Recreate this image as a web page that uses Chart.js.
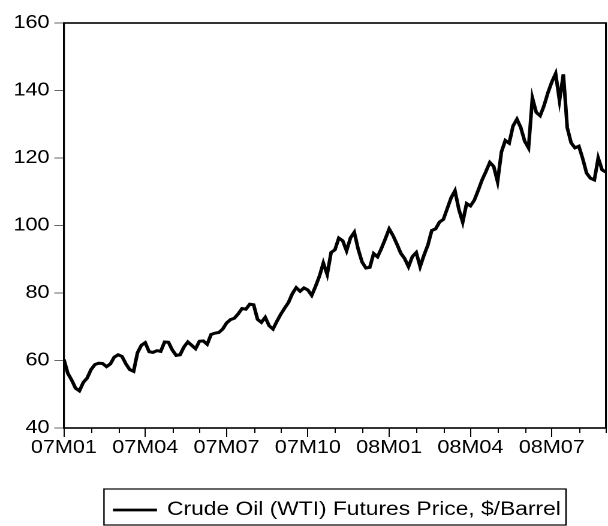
<!DOCTYPE html>
<html>
<head>
<meta charset="utf-8">
<script src="https://cdn.jsdelivr.net/npm/chart.js@4.4.0/dist/chart.umd.min.js"></script>
<style>
  html, body { margin: 0; padding: 0; background: #fff; overflow: hidden; }
  /* the original graph is a little wider than tall fonts suggest, so stretch horizontally */
  #chart { display: block; transform: scaleX(1.1992); transform-origin: 0 0; }
</style>
</head>
<body>
<canvas id="chart" width="507" height="526"></canvas>
<script>
// quarterly labels on the month axis (07M01 = month 0)
const tickLabels = ['07M01', '07M04', '07M07', '07M10', '08M01', '08M04', '08M07'];
const monthsShown = 20;
const obsPerMonth = 7;
const seriesName = 'Crude Oil (WTI) Futures Price, $/Barrel';

// price, 7 obs per month from Jan 2007
const prices = [
  60.3, 56.2, 54.2, 51.8, 51.0, 53.5, 54.8, 57.3, 58.8, 59.2,
  59.1, 58.2, 59.0, 61.0, 61.7, 61.2, 59.0, 57.3, 56.8, 62.3,
  64.5, 65.3, 62.6, 62.4, 62.9, 62.7, 65.5, 65.4, 63.1, 61.5,
  61.7, 64.0, 65.5, 64.5, 63.5, 65.7, 65.8, 64.8, 67.7, 68.1,
  68.3, 69.3, 71.1, 72.1, 72.5, 73.8, 75.4, 75.2, 76.7, 76.5,
  72.2, 71.3, 72.8, 70.3, 69.3, 71.6, 73.7, 75.5, 77.2, 79.8,
  81.6, 80.5, 81.5, 80.9, 79.3, 82.0, 85.0, 88.9, 85.5, 92.0,
  92.8, 96.3, 95.5, 92.5, 96.3, 98.0, 93.0, 89.2, 87.4, 87.6,
  91.7, 90.7, 93.2, 96.0, 99.0, 97.0, 94.5, 91.8, 90.2, 87.8,
  90.8, 92.0, 87.8, 91.2, 94.2, 98.5, 99.0, 101.0, 101.8, 105.0,
  108.2, 110.3, 104.8, 101.0, 106.5, 105.8, 107.5, 110.4, 113.5, 116.0,
  118.7, 117.5, 113.0, 121.8, 125.2, 124.4, 129.5, 131.5, 129.0, 125.0,
  123.0, 137.8, 133.5, 132.5, 135.5, 139.3, 142.5, 145.0, 137.0, 144.8,
  129.0, 124.5, 123.0, 123.5, 119.8, 115.5, 114.0, 113.5, 120.0, 116.5,
  115.8
];

const yMin = 40;
const yMax = 160;
const yStep = 20;

const points = prices.map((p, i) => ({ x: i / obsPerMonth, y: p }));

// frame, monthly minor ticks and the boxed legend
const framePlugin = {
  id: 'frame',
  afterDraw(chart) {
    const { ctx, chartArea: a, scales: { x } } = chart;
    ctx.save();
    ctx.strokeStyle = '#000';

    ctx.lineWidth = 1;
    for (let m = 0; m <= monthsShown; m++) {
      if (m % 3 === 0) continue;
      const px = Math.round(x.getPixelForValue(m)) + 0.5;
      ctx.beginPath();
      ctx.moveTo(px, a.bottom);
      ctx.lineTo(px, a.bottom + 5);
      ctx.stroke();
    }

    ctx.lineWidth = 1.6;
    ctx.strokeRect(a.left, a.top, a.right - a.left, a.bottom - a.top);

    // legend
    ctx.lineWidth = 1.2;
    ctx.strokeRect(86.7, 489, 385.3, 36);
    ctx.lineWidth = 2.8;
    ctx.beginPath();
    ctx.moveTo(94.2, 510);
    ctx.lineTo(130.9, 510);
    ctx.stroke();
    ctx.fillStyle = '#000';
    ctx.font = '19px "Liberation Sans", Arial, sans-serif';
    ctx.textBaseline = 'middle';
    ctx.textAlign = 'left';
    ctx.fillText(chart.data.datasets[0].label, 139.3, 510);
    ctx.restore();
  }
};

new Chart(document.getElementById('chart'), {
  type: 'line',
  data: {
    datasets: [{
      label: seriesName,
      data: points,
      borderColor: '#000',
      borderWidth: 3,
      pointRadius: 0,
      tension: 0,
      fill: false
    }]
  },
  options: {
    responsive: false,
    animation: false,
    devicePixelRatio: 2,
    layout: { padding: { top: 23, right: 1.7, left: 0, bottom: 0 } },
    plugins: { legend: { display: false }, tooltip: { enabled: false } },
    scales: {
      x: {
        type: 'linear',
        min: 0,
        max: monthsShown,
        border: { display: false },
        grid: {
          drawOnChartArea: false,
          tickLength: 9,
          tickWidth: 1,
          tickColor: (c) => (c.tick && c.tick.value % 3 === 0) ? '#000' : 'rgba(0,0,0,0)'
        },
        ticks: {
          stepSize: 1,
          autoSkip: false,
          maxRotation: 0,
          padding: 0,
          color: '#000',
          font: { family: '"Liberation Sans", Arial, sans-serif', size: 18 },
          callback: (v) => (v % 3 === 0 ? tickLabels[v / 3] : '')
        },
        afterFit: (scale) => { scale.height = 98; }
      },
      y: {
        min: yMin,
        max: yMax,
        border: { display: false },
        grid: { drawOnChartArea: false, tickLength: 8, tickWidth: 1, tickColor: '#666' },
        ticks: {
          stepSize: yStep,
          padding: 4,
          color: '#000',
          font: { family: '"Liberation Sans", Arial, sans-serif', size: 18 }
        },
        afterFit: (scale) => { scale.width = 53.3; }
      }
    }
  },
  plugins: [framePlugin]
});
</script>
</body>
</html>
